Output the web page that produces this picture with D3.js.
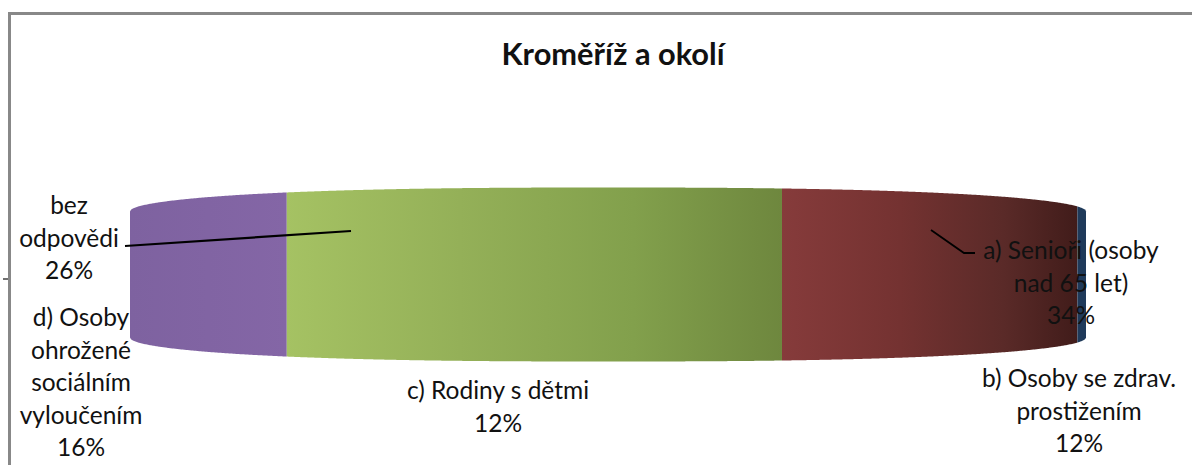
<!DOCTYPE html>
<html>
<head>
<meta charset="utf-8">
<script src="https://cdn.jsdelivr.net/npm/d3@7"></script>
<style>
html, body { margin: 0; padding: 0; background: #fff; }
svg { display: block; }
text { font-family: Lato, "Open Sans", sans-serif; fill: #111; }
</style>
</head>
<body>
<div id="chart"></div>
<script>
var chartTitle = "Kroměříž a okolí";
// share of the visible front wall taken by each colour
var wallColors = ["purple", "green", "red", "navy"];
var wallShares = [16.4, 51.8, 30.9, 0.9];

var categories = [
    ["bez", "odpovědi"],
    ["d) Osoby", "ohrožené", "sociálním", "vyloučením"],
    ["c) Rodiny s dětmi"],
    ["b) Osoby se zdrav.", "prostižením"],
    ["a) Senioři (osoby", "nad 65 let)"]
];
var percents = [26, 16, 12, 12, 34];

var width = 1192, height = 465;
var labelX = [69, 81, 498, 1079, 1071];
var labelY = [214, 326, 399, 387, 259];
var lineStep = 32.5;

var svg = d3.select("#chart").append("svg")
    .attr("width", width)
    .attr("height", height);

var x = d3.scaleLinear().domain([0, 100]).range([130, 1086]);
var midX = 608, midY = 274.5, halfW = 478;

// lens shape of the flattened cylinder
function halfHeight(px) {
    var t = Math.abs(px - midX) / halfW;
    return 63 + 24 * Math.sqrt(Math.max(0, 1 - Math.pow(t, 2.5)));
}

var stops = {
    purple: [[0, "#7e62a0"], [1, "#8466a6"]],
    green: [[0, "#a5c263"], [0.35, "#94b058"], [0.7, "#82a04c"], [1, "#6e873e"]],
    red: [[0, "#863b3b"], [0.4, "#743231"], [0.75, "#5a2a28"], [1, "#411c1a"]],
    navy: [[0, "#1f3a5a"], [1, "#1f3a5a"]]
};

var defs = svg.append("defs");
wallColors.forEach(function (c) {
    var g = defs.append("linearGradient").attr("id", "grad-" + c);
    stops[c].forEach(function (s) {
        g.append("stop").attr("offset", s[0]).attr("stop-color", s[1]);
    });
});

var edges = [0].concat(Array.from(d3.cumsum(wallShares)));

var area = d3.area()
    .x(function (d) { return d; })
    .y0(function (d) { return midY + halfHeight(d); })
    .y1(function (d) { return midY - halfHeight(d); });

wallColors.forEach(function (c, i) {
    var x0 = x(edges[i]), x1 = x(edges[i + 1]);
    var steps = d3.range(x0, x1, 1).concat([x1]);
    svg.append("path")
        .attr("d", area(steps))
        .attr("fill", "url(#grad-" + c + ")");
});

// chart frame, only top and left show in the crop
svg.append("path")
    .attr("d", "M9.5,465V13.5H1192")
    .attr("fill", "none")
    .attr("stroke", "#888")
    .attr("stroke-width", 3);

svg.append("line")
    .attr("x1", 3).attr("x2", 8)
    .attr("y1", 279).attr("y2", 279)
    .attr("stroke", "#111")
    .attr("stroke-width", 1.2);

// leader lines
var leader = d3.line();
svg.append("path")
    .attr("d", leader([[125, 246], [351, 231]]))
    .attr("fill", "none").attr("stroke", "#000").attr("stroke-width", 2.2);
svg.append("path")
    .attr("d", leader([[931, 230], [964, 253], [975, 253]]))
    .attr("fill", "none").attr("stroke", "#000").attr("stroke-width", 1.8);

svg.append("text")
    .attr("x", 613)
    .attr("y", 65)
    .attr("text-anchor", "middle")
    .attr("font-size", 30)
    .attr("font-weight", 700)
    .attr("textLength", 223)
    .attr("lengthAdjust", "spacingAndGlyphs")
    .text(chartTitle);

categories.forEach(function (lines, i) {
    var t = svg.append("text")
        .attr("text-anchor", "middle")
        .attr("font-size", 24.5);
    lines.concat([percents[i] + "%"]).forEach(function (s, j) {
        t.append("tspan")
            .attr("x", labelX[i])
            .attr("y", labelY[i] + j * lineStep)
            .text(s);
    });
});
</script>
</body>
</html>
